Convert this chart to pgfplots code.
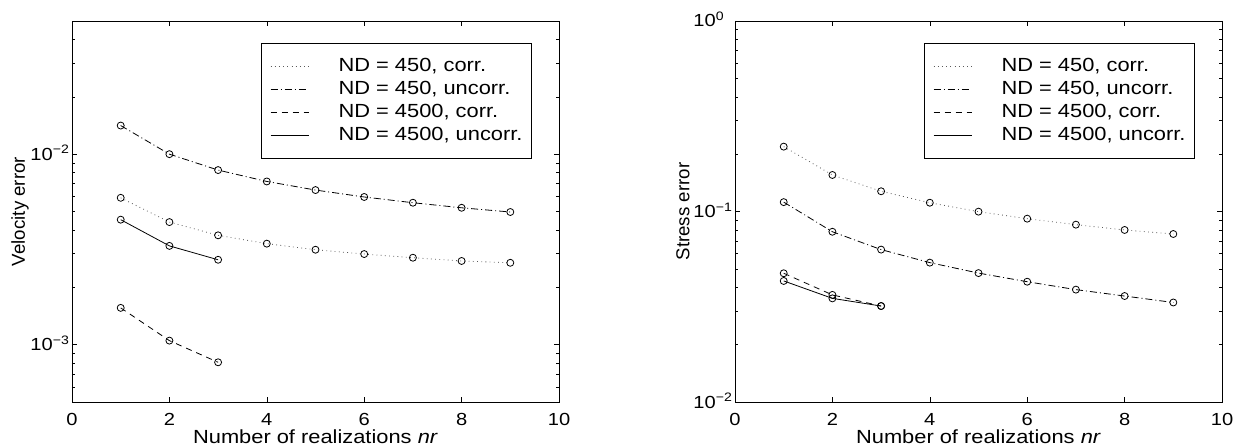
\documentclass[border=0pt]{standalone}
\usepackage{pgfplots}
\pgfplotsset{compat=1.18}
\usepackage{fontspec}
\setmainfont[FakeStretch=1.15]{Liberation Sans}
\newfontfamily\ylabfont{Liberation Sans}
\tikzset{
  dotl/.style={black!65, line width=0.8pt, dash pattern=on 0.8pt off 3.4pt, mark=o, mark size=3.5pt, mark options={solid, black, line width=0.8pt}},
  dashdotl/.style={black, line width=0.8pt, dash pattern=on 7pt off 3pt on 1pt off 3pt, mark=o, mark size=3.5pt, mark options={solid, line width=0.8pt}},
  dashl/.style={black, line width=0.8pt, dash pattern=on 6pt off 5pt, mark=o, mark size=3.5pt, mark options={solid, line width=0.8pt}},
  solidl/.style={black, line width=0.8pt, solid, mark=o, mark size=3.5pt, mark options={solid, line width=0.8pt}},
}
\begin{document}
\begin{tikzpicture}
\path[use as bounding box] (0,0) rectangle (1242pt,446pt);
\begin{axis}[at={(72pt,44pt)}, anchor=south west,
    width=487pt, height=381pt, scale only axis,
    ymode=log, log basis y=10,
    xmin=0, xmax=10, xtick={0,2,4,6,8,10},
    /pgf/number format/assume math mode=true,
    tick label style={font=\fontsize{17.5}{21}\selectfont},
    xticklabel style={anchor=base, yshift=-23pt},
    yticklabel style={anchor=base east, inner sep=0pt, xshift=-19pt, yshift=-6pt},
    xlabel style={font=\fontsize{19}{22}\selectfont, at={(axis description cs:0.5,0)}, anchor=base, yshift=-41pt},
    ylabel style={font=\ylabfont\fontsize{18.7}{22}\selectfont, at={(axis description cs:-0.1068,0.5)}, anchor=center},
    major tick length=5pt, minor tick length=3pt,
    tick style={black, line width=0.6pt},
    axis line style={line width=0.9pt},
    xlabel={Number of realizations \textit{nr}},
    legend style={at={(1,1)}, anchor=north east, xshift=-27pt, yshift=-22pt,
      draw=black, line width=0.9pt, font=\fontsize{19}{23}\selectfont,
      inner xsep=9pt, inner ysep=14pt, row sep=5pt,
      nodes={inner sep=0pt, text height=14pt, text depth=4pt}},
    legend cell align=left,
    legend image code/.code={\draw[#1, line width=0.8pt] (0pt,0pt) -- (38pt,0pt); \path[draw=none] (0pt,0pt) -- (68pt,0pt);},
  ymin=5e-4, ymax=5e-2,
  ytick={1e-3,1e-2}, yticklabels={10\rlap{\textsuperscript{−3}},10\rlap{\textsuperscript{−2}}},
  minor ytick={6e-4,7e-4,8e-4,9e-4,2e-3,3e-3,4e-3,5e-3,6e-3,7e-3,8e-3,9e-3,2e-2,3e-2,4e-2},
  ylabel={Velocity error}]
\addplot[dotl] coordinates {(1,0.0059) (2,0.0044) (3,0.00375) (4,0.00339) (5,0.00315) (6,0.00299) (7,0.00286) (8,0.00275) (9,0.00269)};
\addlegendentry{ND = 450, corr.}
\addplot[dashdotl] coordinates {(1,0.01413) (2,0.0100) (3,0.00825) (4,0.00719) (5,0.00648) (6,0.00596) (7,0.00556) (8,0.00523) (9,0.00497)};
\addlegendentry{ND = 450, uncorr.}
\addplot[dashl] coordinates {(1,0.00156) (2,0.00105) (3,0.000808)};
\addlegendentry{ND = 4500, corr.}
\addplot[solidl] coordinates {(1,0.00453) (2,0.0033) (3,0.00279)};
\addlegendentry{ND = 4500, uncorr.}
\end{axis}
\begin{axis}[at={(735pt,44pt)}, anchor=south west,
    width=487pt, height=381pt, scale only axis,
    ymode=log, log basis y=10,
    xmin=0, xmax=10, xtick={0,2,4,6,8,10},
    /pgf/number format/assume math mode=true,
    tick label style={font=\fontsize{17.5}{21}\selectfont},
    xticklabel style={anchor=base, yshift=-23pt},
    yticklabel style={anchor=base east, inner sep=0pt, xshift=-19pt, yshift=-6pt},
    xlabel style={font=\fontsize{19}{22}\selectfont, at={(axis description cs:0.5,0)}, anchor=base, yshift=-41pt},
    ylabel style={font=\ylabfont\fontsize{18.7}{22}\selectfont, at={(axis description cs:-0.1068,0.5)}, anchor=center},
    major tick length=5pt, minor tick length=3pt,
    tick style={black, line width=0.6pt},
    axis line style={line width=0.9pt},
    xlabel={Number of realizations \textit{nr}},
    legend style={at={(1,1)}, anchor=north east, xshift=-27pt, yshift=-22pt,
      draw=black, line width=0.9pt, font=\fontsize{19}{23}\selectfont,
      inner xsep=9pt, inner ysep=14pt, row sep=5pt,
      nodes={inner sep=0pt, text height=14pt, text depth=4pt}},
    legend cell align=left,
    legend image code/.code={\draw[#1, line width=0.8pt] (0pt,0pt) -- (38pt,0pt); \path[draw=none] (0pt,0pt) -- (68pt,0pt);},
  ymin=1e-2, ymax=1,
  ytick={1e-2,1e-1,1}, yticklabels={10\rlap{\textsuperscript{−2}},10\rlap{\textsuperscript{−1}},10\rlap{\textsuperscript{0}}},
  minor ytick={2e-2,3e-2,4e-2,5e-2,6e-2,7e-2,8e-2,9e-2,2e-1,3e-1,4e-1,5e-1,6e-1,7e-1,8e-1,9e-1},
  ylabel={Stress error}]
\addplot[dotl] coordinates {(1,0.219) (2,0.1555) (3,0.1277) (4,0.1112) (5,0.0998) (6,0.0917) (7,0.0853) (8,0.0800) (9,0.0762)};
\addlegendentry{ND = 450, corr.}
\addplot[dashdotl] coordinates {(1,0.112) (2,0.0783) (3,0.0631) (4,0.0539) (5,0.0475) (6,0.0428) (7,0.0389) (8,0.0360) (9,0.0333)};
\addlegendentry{ND = 450, uncorr.}
\addplot[dashl] coordinates {(1,0.0474) (2,0.0365) (3,0.0319)};
\addlegendentry{ND = 4500, corr.}
\addplot[solidl] coordinates {(1,0.0432) (2,0.0350) (3,0.0319)};
\addlegendentry{ND = 4500, uncorr.}
\end{axis}
\end{tikzpicture}
\end{document}
